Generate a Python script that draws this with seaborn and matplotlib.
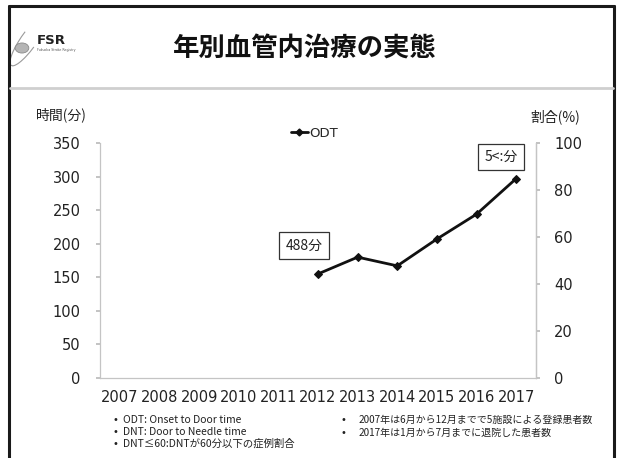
import numpy as np
import pandas as pd
import matplotlib
matplotlib.use("Agg")
import matplotlib.pyplot as plt
from matplotlib.patches import Circle, Arc
from matplotlib.lines import Line2D
from matplotlib.transforms import Affine2D
import seaborn as sns

# ---- data ----
years = [2007, 2008, 2009, 2010, 2011, 2012, 2013, 2014, 2015, 2016, 2017]
odt_minutes = [None, None, None, None, None, 155, 180, 167, 207, 244, 297]
left_ticks = [0, 50, 100, 150, 200, 250, 300, 350]
right_ticks = [0, 20, 40, 60, 80, 100]
callout_years = [2012, 2017]
callout_texts = ["488分", "5<:分"]

title = "年別血管内治療の実態"
notes_left = ["ODT: Onset to Door time",
              "DNT: Door to Needle time",
              "DNT≤60:DNTが60分以下の症例割合"]
notes_right = ["2007年は6月から12月までで5施設による登録患者数",
               "2017年は1月から7月までに退院した患者数"]

sns.set_theme(style="white")
JP = ["Noto Sans CJK JP", "DejaVu Sans"]
NUM = "DejaVu Sans"
plt.rcParams["font.family"] = JP

df = pd.DataFrame({"year": years, "ODT": odt_minutes}).dropna()
df["ODT"] = df["ODT"].astype(float)

W, H = 620, 458
fig = plt.figure(figsize=(W / 100, H / 100), dpi=100)
fig.patch.set_facecolor("white")

def fx(px):
    return px / W

def fy(py):
    return 1 - py / H

# slide frame
for xs, ys in [([9, 9], [6, 460]), ([9, 614], [6, 6]), ([614, 614], [6, 460])]:
    fig.add_artist(Line2D([fx(x) for x in xs], [fy(y) for y in ys],
                          color="#1a1a1a", lw=2.2))
# header separator
fig.add_artist(Line2D([fx(10), fx(613)], [fy(88), fy(88)], color="#cfcfcf", lw=2.0))

# logo: orbit arc, sphere and lettering
orbit = Arc((0, 0), 62, 16, angle=-55, theta1=60, theta2=250,
            color="#9a9a9a", lw=0.8)
orbit.set_transform(Affine2D().rotate_deg(110).translate(29, H - 40))
fig.add_artist(orbit)
sphere = Circle((fx(22), fy(48)), 0.011, transform=fig.transFigure,
                facecolor="#b5b5b5", edgecolor="#8a8a8a", lw=0.6)
sphere.set_zorder(3)
fig.add_artist(sphere)
fig.text(fx(37), fy(41), "FSR", fontsize=9.5, fontweight="bold", family=NUM,
         color="#222222", va="center", ha="left")
fig.text(fx(37), fy(50), "Fukuoka Stroke Registry", fontsize=2.3, family=NUM,
         color="#555555", va="center", ha="left")

fig.text(fx(305), fy(48), title, fontsize=19, fontweight="bold", family=JP,
         ha="center", va="center", color="#111111")

# main axes
ax = fig.add_axes([fx(100), fy(378), fx(536) - fx(100), fy(143) - fy(378)])
ax.set_facecolor("white")
sns.lineplot(data=df, x="year", y="ODT", ax=ax, color="#111111", lw=2.0,
             marker="D", markersize=4.5, markeredgecolor="#111111", legend=False)
ax.set_xlim(years[0] - 0.5, years[-1] + 0.5)
ax.set_ylim(0, 350)
ax.set_yticks(left_ticks)
ax.set_xticks(years)
ax.set_xticklabels([str(y) for y in years], fontsize=10.5, fontfamily=NUM, color="#222222")
ax.set_yticklabels([str(t) for t in left_ticks], fontsize=10.5, fontfamily=NUM, color="#222222")
ax.set_xlabel("")
ax.set_ylabel("")
ax.spines["top"].set_visible(False)
for s in ["left", "right", "bottom"]:
    ax.spines[s].set_color("#c4c4c4")
    ax.spines[s].set_linewidth(0.9)
ax.tick_params(axis="y", length=3, color="#bbbbbb", pad=11)
ax.tick_params(axis="x", length=0, pad=9)

ax2 = ax.twinx()
ax2.set_ylim(0, 100)
ax2.set_yticks(right_ticks)
ax2.set_yticklabels([str(t) for t in right_ticks], fontsize=10.5, fontfamily=NUM, color="#222222")
for s in ["top", "left", "bottom"]:
    ax2.spines[s].set_visible(False)
ax2.spines["right"].set_color("#c4c4c4")
ax2.spines["right"].set_linewidth(0.9)
ax2.tick_params(axis="y", length=3, color="#bbbbbb", pad=10)
ax2.grid(False)
ax.grid(False)

# value callouts
vals = dict(zip(df["year"], df["ODT"]))
offsets = [(-0.35, 42), (-0.38, 32)]
for yr, txt, (dx, dy) in zip(callout_years, callout_texts, offsets):
    ax.text(yr + dx, vals[yr] + dy, txt, fontsize=10, family=JP, ha="center", va="center",
            color="#222222",
            bbox=dict(boxstyle="square,pad=0.45", facecolor="white", edgecolor="#333333", lw=0.9))

# legend entry
ax.legend(handles=[Line2D([], [], color="#111111", lw=2, marker="D", markersize=3.5)],
          labels=["ODT"], loc="upper left", bbox_to_anchor=(0.41, 1.12),
          frameon=False, handlelength=1.3, handletextpad=0.1,
          prop={"family": NUM, "size": 9.5})

# axis titles
fig.text(fx(36), fy(115), "時間(分)", fontsize=10, family=JP, ha="left", va="center",
         color="#222222")
fig.text(fx(530), fy(117), "割合(%)", fontsize=10, family=JP, ha="left", va="center",
         color="#222222")

# footnotes
for i, t in enumerate(notes_left):
    yy = fy(420 + i * 12)
    fig.text(fx(113), yy, "•", fontsize=7, family=NUM, ha="left", va="center", color="#222222")
    fig.text(fx(123), yy, t, fontsize=7.5, family=JP, ha="left", va="center", color="#222222")
for i, t in enumerate(notes_right):
    yy = fy(420 + i * 13)
    fig.text(fx(340), yy, "•", fontsize=7, family=NUM, ha="left", va="center", color="#222222")
    fig.text(fx(359), yy, t, fontsize=7.2, family=JP, ha="left", va="center", color="#222222")

fig.savefig("out.png", dpi=100, facecolor="white")
